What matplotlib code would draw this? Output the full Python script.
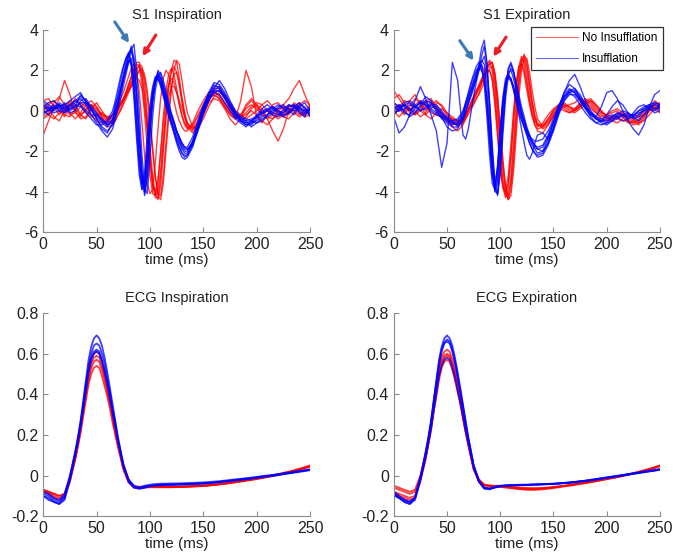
#Import Declarations
import matplotlib
matplotlib.use("Agg")
import matplotlib.pyplot as plt
import numpy as np

plt.rcParams['font.family'] = ['Liberation Sans', 'DejaVu Sans']
plt.rcParams['axes.unicode_minus'] = False

#Sample times (ms) for the S1 traces: coarse, fine around S1, coarse
t_s1 = np.concatenate([np.arange(0, 66, 5), np.arange(67.5, 133, 2.5), np.arange(135, 251, 5)])
#Sample times (ms) for the ECG traces
t_ecg = np.concatenate([np.arange(0, 31, 5), np.arange(32.5, 71, 2.5), np.arange(75, 251, 5)])

#S1 Inspiration - Insufflation (blue)
s1_insp_blue = [
    [0.1,0.2,0.0,0.3,0.1,0.2,0.4,0.6,0.3,0.0,-0.3,-0.6,-0.8,-0.4,
     0.0,0.5,1.0,1.6,2.2,2.8,3.1,2.2,0.5,-1.5,-3.3,-4.0,-2.8,-0.8,0.6,1.5,1.9,1.6,1.1,0.6,0.1,-0.3,-0.7,-1.1,-1.5,-1.8,-2.0,
     -2.0,-1.5,-0.8,0.0,0.6,1.0,1.0,0.6,0.2,-0.2,-0.4,-0.6,-0.6,-0.5,-0.3,-0.2,0.0,0.1,0.2,0.1,0.0,0.1,0.0,-0.1],
    [0.3,0.0,0.2,0.1,0.4,0.0,0.2,0.8,0.5,0.1,-0.4,-0.9,-1.1,-0.6,
     0.2,0.8,1.5,2.1,2.6,2.9,2.2,0.6,-1.4,-3.2,-3.9,-3.0,-1.2,0.3,1.2,1.7,1.6,1.2,0.7,0.2,-0.3,-0.7,-1.1,-1.5,-1.8,-2.1,-2.3,
     -2.2,-1.6,-0.7,0.2,0.8,1.3,1.1,0.7,0.2,-0.3,-0.5,-0.7,-0.7,-0.4,-0.2,0.0,0.2,0.0,-0.1,0.2,0.3,0.0,-0.2,0.1],
    [-0.2,0.1,0.3,0.0,-0.1,0.3,0.5,0.3,0.0,-0.2,-0.2,-0.4,-0.7,-0.6,
     -0.3,0.1,0.6,1.2,1.8,2.4,3.0,3.3,2.0,0.0,-2.2,-3.8,-4.1,-2.3,-0.3,1.0,1.7,1.9,1.5,1.0,0.4,-0.1,-0.5,-1.0,-1.4,-1.7,-1.9,
     -1.9,-1.7,-1.0,-0.2,0.5,1.1,1.5,1.1,0.5,0.0,-0.3,-0.5,-0.8,-0.6,-0.4,-0.3,-0.1,0.2,0.3,0.0,-0.2,0.2,0.4,0.0],
    [0.5,0.3,0.1,0.2,0.3,0.5,0.7,0.9,0.4,-0.2,-0.6,-1.0,-1.3,-0.9,
     -0.4,0.2,0.9,1.5,2.0,2.4,2.6,1.6,-0.2,-2.2,-3.6,-3.7,-2.2,-0.3,0.9,1.5,1.7,1.3,0.8,0.3,-0.2,-0.6,-1.1,-1.6,-2.0,-2.3,-2.4,
     -2.3,-1.8,-0.9,0.1,0.8,1.2,1.2,0.8,0.3,-0.1,-0.3,-0.4,-0.5,-0.6,-0.5,-0.2,0.1,0.3,0.1,-0.1,0.1,0.3,0.2,-0.3],
    [0.0,-0.2,0.1,0.4,0.2,-0.1,0.0,0.5,0.6,0.2,-0.1,-0.5,-0.6,-0.2,
     0.3,0.7,1.2,1.8,2.4,2.8,3.0,2.5,1.0,-1.0,-3.0,-4.2,-3.3,-1.2,0.4,1.4,2.0,1.8,1.3,0.8,0.3,-0.2,-0.6,-1.0,-1.3,-1.6,-1.8,
     -1.8,-1.3,-0.5,0.3,0.9,1.4,1.3,0.9,0.4,-0.1,-0.5,-0.7,-0.6,-0.3,0.0,0.1,-0.1,-0.2,0.0,0.3,0.2,-0.1,-0.3,0.2],
    [0.2,0.4,0.5,0.2,-0.1,0.1,0.3,0.2,-0.1,-0.4,-0.7,-0.7,-0.5,0.0,
     0.5,1.1,1.7,2.2,2.6,2.8,2.4,1.0,-1.0,-2.8,-3.9,-3.5,-1.8,-0.1,1.0,1.6,1.8,1.4,0.9,0.4,-0.1,-0.5,-0.9,-1.3,-1.6,-1.9,-2.1,
     -2.1,-1.5,-0.6,0.2,0.7,0.9,0.8,0.4,0.0,-0.4,-0.6,-0.8,-0.5,-0.2,0.1,0.3,0.1,-0.1,-0.3,-0.1,0.2,0.4,0.1,-0.2],
    [-0.1,0.0,0.2,0.3,0.0,0.1,0.2,0.4,0.4,0.1,-0.2,-0.5,-0.7,-0.5,
     -0.1,0.4,0.9,1.5,2.1,2.7,3.2,2.6,0.9,-1.2,-3.1,-4.1,-3.2,-1.0,0.5,1.4,1.8,1.6,1.2,0.7,0.2,-0.2,-0.6,-1.0,-1.3,-1.6,-1.8,
     -1.9,-1.6,-0.9,-0.1,0.5,0.9,1.0,0.7,0.3,-0.1,-0.4,-0.5,-0.4,-0.3,-0.1,0.1,0.2,0.0,-0.2,-0.1,0.1,0.2,0.0,0.1],
    [0.3,0.1,-0.1,0.0,0.2,0.3,0.5,0.7,0.5,0.1,-0.4,-0.8,-1.0,-0.7,
     -0.2,0.4,1.0,1.6,2.1,2.5,2.3,1.2,-0.5,-2.4,-3.6,-3.4,-2.0,-0.4,0.8,1.4,1.6,1.4,1.0,0.5,0.0,-0.5,-0.9,-1.4,-1.8,-2.1,-2.2,
     -2.2,-1.7,-0.8,0.0,0.7,1.1,1.1,0.7,0.2,-0.2,-0.5,-0.6,-0.5,-0.3,-0.1,0.0,-0.2,-0.3,-0.1,0.2,0.3,0.1,-0.1,0.0],
]

#S1 Inspiration - No Insufflation (red)
s1_insp_red = [
    [-1.2,-0.5,0.1,0.6,1.5,0.8,-0.1,-0.3,0.1,0.3,0.0,-0.3,-0.5,-0.6,
     -0.5,-0.2,0.1,0.4,0.8,1.2,1.6,2.0,2.3,2.2,1.3,-0.2,-1.8,-3.2,-4.1,-4.2,-3.5,-2.0,-0.3,1.0,1.8,2.1,1.8,1.1,0.3,-0.3,-0.7,
     -0.9,-0.8,-0.3,0.2,0.6,0.8,0.6,0.2,-0.2,-0.4,0.5,2.0,1.2,-0.3,-0.6,-0.2,0.3,0.4,0.1,-0.2,0.2,0.4,0.1,0.0],
    [0.4,0.2,-0.3,-0.5,0.0,0.5,0.3,-0.2,-0.4,0.1,0.4,0.0,-0.4,-0.5,
     -0.3,0.0,0.3,0.5,0.7,1.0,1.3,1.7,2.0,2.3,2.2,1.3,-0.2,-1.8,-3.2,-4.1,-4.4,-3.7,-2.1,-0.3,1.1,2.0,2.5,2.4,1.6,0.6,-0.2,
     -0.7,-1.0,-0.6,0.0,0.5,0.9,0.8,0.4,0.0,-0.3,-0.5,-0.3,0.1,0.3,0.1,-0.4,-1.0,-1.5,-0.9,0.0,0.4,0.2,-0.1,0.1],
    [0.0,0.3,0.5,0.2,-0.2,-0.3,0.1,0.4,0.2,-0.2,-0.5,-0.6,-0.4,-0.2,
     0.0,0.3,0.6,0.9,1.3,1.7,2.1,2.3,2.0,0.9,-0.6,-2.2,-3.6,-4.1,-3.9,-2.6,-0.9,0.6,1.6,2.0,1.8,1.2,0.5,-0.1,-0.5,-0.8,-1.0,
     -1.0,-0.6,0.0,0.5,0.9,1.0,0.7,0.3,-0.1,-0.3,-0.2,0.1,0.3,0.1,-0.2,-0.4,-0.2,0.1,0.3,0.6,1.1,1.5,0.8,0.2],
    [0.2,0.0,0.4,0.7,0.3,-0.1,-0.4,-0.1,0.3,0.5,0.2,-0.3,-0.8,-0.7,
     -0.5,-0.2,0.0,0.3,0.6,0.9,1.2,1.5,1.6,1.5,1.1,0.2,-1.0,-2.4,-3.6,-4.2,-4.0,-2.9,-1.3,0.2,1.3,1.9,2.2,1.9,1.2,0.4,-0.3,
     -0.8,-1.1,-0.8,-0.2,0.4,0.6,0.5,0.1,-0.4,-0.7,-0.4,0.2,0.5,0.2,-0.1,0.0,0.2,0.0,-0.3,-0.4,-0.1,0.3,0.5,0.3],
    [-0.3,-0.1,0.2,0.0,-0.3,0.2,0.6,0.3,-0.1,-0.3,-0.2,-0.1,-0.3,-0.4,
     -0.2,0.1,0.4,0.6,0.9,1.3,1.7,2.1,2.4,2.4,1.8,0.8,-0.6,-2.2,-3.6,-4.3,-4.3,-3.3,-1.7,-0.3,0.7,1.2,1.2,0.9,0.5,0.1,-0.3,
     -0.6,-0.9,-0.7,-0.1,0.5,1.0,1.2,0.7,0.1,-0.2,-0.3,-0.1,0.2,0.4,0.3,0.0,-0.2,-0.4,-0.2,0.1,0.0,-0.2,0.0,0.3],
    [0.5,0.6,0.2,-0.2,0.1,0.3,0.0,-0.4,-0.3,0.2,0.1,-0.2,-0.3,-0.2,
     0.0,0.2,0.4,0.6,0.8,1.0,1.2,1.4,1.7,2.0,2.1,1.8,1.0,-0.3,-1.8,-3.2,-4.2,-4.4,-3.6,-2.0,-0.4,1.0,2.0,2.5,2.3,1.5,0.6,
     -0.1,-0.8,-0.9,-0.4,0.2,0.7,0.9,0.8,0.4,0.0,-0.2,-0.4,-0.2,0.0,0.3,0.5,0.2,-0.2,-0.3,0.0,0.2,0.0,-0.2,-0.1],
    [-0.4,-0.2,0.1,0.3,0.1,-0.2,-0.1,0.2,0.4,0.2,-0.1,-0.4,-0.6,-0.5,
     -0.3,0.0,0.3,0.6,0.9,1.3,1.6,1.9,2.1,2.2,1.7,0.6,-0.9,-2.5,-3.7,-4.0,-3.4,-2.1,-0.6,0.6,1.3,1.6,1.4,0.9,0.3,-0.2,-0.6,
     -0.8,-0.7,-0.2,0.3,0.7,0.9,1.0,0.6,0.1,-0.2,-0.3,-0.2,0.0,-0.2,-0.5,-0.7,-0.4,0.0,0.2,0.1,-0.1,-0.3,-0.1,0.1],
    [0.1,-0.2,-0.4,-0.1,0.3,0.4,0.1,-0.2,0.0,0.3,0.2,-0.2,-0.4,-0.3,
     -0.1,0.1,0.3,0.5,0.8,1.1,1.4,1.6,1.8,2.0,2.0,1.6,0.7,-0.6,-2.0,-3.3,-4.1,-4.2,-3.2,-1.6,0.0,1.2,1.8,1.9,1.4,0.6,-0.1,
     -0.6,-0.9,-0.5,0.1,0.6,0.8,0.6,0.2,-0.2,-0.4,-0.2,0.3,0.6,0.3,-0.1,-0.3,-0.4,-0.2,0.1,0.3,0.2,-0.1,-0.3,-0.2],
]

#S1 Expiration - Insufflation (blue)
s1_exp_blue = [
    [0.2,0.0,0.1,0.3,0.2,0.4,0.3,0.1,-0.1,-0.3,-0.5,-0.7,-0.6,-0.2,
     0.3,0.7,1.1,1.5,1.9,2.2,2.5,2.3,1.2,-0.6,-2.6,-3.9,-3.6,-1.9,-0.1,1.2,1.9,2.0,1.6,1.0,0.4,-0.1,-0.5,-0.9,-1.2,-1.5,-1.7,
     -1.8,-1.7,-1.2,-0.5,0.2,0.8,1.1,0.9,0.5,0.1,-0.2,-0.4,-0.5,-0.5,-0.4,-0.3,-0.3,-0.2,-0.2,-0.1,0.0,0.2,0.3,0.2],
    [0.0,0.2,0.3,0.1,-0.1,0.2,0.5,0.4,0.0,-0.4,-0.6,-0.8,-0.8,-0.5,
     -0.1,0.3,0.7,1.1,1.6,2.3,3.1,3.5,2.4,0.2,-2.2,-4.0,-4.1,-2.6,-0.6,1.0,2.1,2.4,2.0,1.3,0.6,0.0,-0.5,-1.0,-1.4,-1.7,-1.9,
     -2.1,-2.0,-1.4,-0.6,0.2,0.9,1.3,1.1,0.6,0.2,-0.1,-0.3,-0.5,-0.6,-0.5,-0.4,-0.2,-0.1,-0.3,-0.5,-0.2,0.1,0.4,0.3],
    [-0.3,-1.1,-0.8,-0.2,0.5,1.2,0.6,-0.2,-1.0,-2.8,-1.6,2.4,1.5,-1.2,
     -1.4,-0.9,-0.1,0.7,1.4,2.0,2.3,1.9,0.6,-1.1,-2.9,-3.6,-2.8,-1.0,0.5,1.4,1.8,1.6,1.1,0.5,-0.2,-0.9,-1.6,-2.2,-2.4,-2.1,-1.6,
     -1.2,-1.1,-1.4,-0.9,0.1,0.9,1.5,1.8,1.2,0.5,0.0,-0.3,0.2,0.9,1.0,0.6,0.0,-0.5,-0.9,-1.2,-0.7,0.2,0.8,1.0],
    [0.4,0.2,-0.1,-0.2,0.1,0.5,0.4,0.2,0.1,-0.2,-0.4,-0.5,-0.4,0.0,
     0.4,0.9,1.4,1.8,2.2,2.4,2.2,1.3,-0.3,-2.2,-3.6,-3.9,-2.7,-0.8,0.7,1.6,1.8,1.5,1.0,0.4,-0.1,-0.5,-0.8,-1.1,-1.3,-1.4,-1.5,
     -1.5,-1.4,-1.0,-0.4,0.3,0.7,0.9,0.7,0.3,-0.1,-0.4,-0.6,-0.7,-0.6,-0.3,-0.1,-0.2,-0.4,-0.3,0.0,0.2,0.3,0.1,0.1],
    [-0.2,0.1,0.4,0.5,0.3,0.0,0.1,0.3,0.3,0.0,-0.3,-0.5,-0.7,-0.4,
     0.0,0.4,0.9,1.3,1.7,2.0,2.4,2.7,2.0,0.4,-1.7,-3.5,-4.2,-3.2,-1.2,0.6,1.7,2.1,1.9,1.4,0.8,0.2,-0.3,-0.8,-1.2,-1.5,-1.7,
     -1.9,-2.0,-1.6,-0.8,0.0,0.6,1.0,1.1,0.8,0.3,-0.1,-0.3,-0.4,-0.3,-0.2,-0.3,-0.5,-0.4,-0.1,0.2,0.3,0.1,0.0,0.2],
    [0.1,0.3,0.0,-0.3,-0.1,0.3,0.7,0.5,0.0,-0.3,-0.8,-1.0,-0.9,-0.3,
     0.2,0.6,1.0,1.4,1.8,2.1,2.0,1.6,0.5,-1.3,-3.1,-4.0,-3.3,-1.4,0.3,1.3,1.6,1.5,1.2,0.7,0.2,-0.3,-0.8,-1.2,-1.6,-1.9,-2.1,
     -2.2,-2.1,-1.6,-0.9,-0.1,0.5,0.8,0.8,0.5,0.1,-0.3,-0.6,-0.5,-0.2,0.2,0.5,0.3,-0.1,-0.4,-0.3,0.0,0.1,-0.1,0.0],
    [0.1,0.3,0.2,0.0,0.2,0.4,0.3,0.0,-0.2,-0.3,-0.4,-0.6,-0.7,-0.4,
     0.0,0.4,0.8,1.2,1.6,2.1,2.7,3.2,2.3,0.4,-2.0,-3.8,-4.1,-2.8,-0.7,1.0,2.0,2.3,1.9,1.2,0.5,-0.1,-0.6,-1.0,-1.3,-1.6,-1.8,
     -1.9,-1.8,-1.3,-0.6,0.1,0.7,1.0,0.9,0.6,0.2,-0.2,-0.4,-0.5,-0.4,-0.3,-0.2,-0.2,-0.3,-0.2,0.0,0.1,0.3,0.4,0.3],
    [-0.1,0.0,0.3,0.4,0.2,0.0,0.2,0.4,0.2,-0.1,-0.4,-0.6,-0.5,-0.1,
     0.4,0.8,1.3,1.7,2.0,2.2,2.1,1.5,0.2,-1.6,-3.2,-3.8,-3.0,-1.2,0.4,1.3,1.7,1.6,1.2,0.7,0.1,-0.4,-0.8,-1.2,-1.6,-1.9,-2.1,
     -2.3,-2.2,-1.7,-1.0,-0.2,0.5,0.9,1.0,0.7,0.3,-0.1,-0.4,-0.6,-0.7,-0.5,-0.2,0.0,-0.1,-0.3,-0.2,0.1,0.2,0.1,0.3],
]

#S1 Expiration - No Insufflation (red)
s1_exp_red = [
    [1.0,0.6,0.2,0.0,0.3,0.5,0.2,-0.1,-0.2,-0.3,-0.5,-0.6,-0.7,-0.5,
     -0.3,0.0,0.2,0.4,0.6,0.8,1.1,1.4,1.8,2.1,2.2,1.4,-0.1,-1.9,-3.4,-4.2,-4.3,-3.3,-1.5,0.4,1.8,2.5,2.5,1.9,1.0,0.2,-0.4,
     -0.7,-0.8,-0.5,-0.1,0.1,0.0,-0.1,0.1,0.4,0.6,0.4,0.1,-0.1,-0.2,-0.3,-0.4,-0.5,-0.5,-0.6,-0.4,-0.1,0.1,0.2,0.1],
    [0.3,0.1,-0.2,0.2,0.6,0.4,0.0,0.3,0.5,0.2,-0.2,-0.4,-0.5,-0.6,
     -0.4,-0.2,0.1,0.3,0.6,0.9,1.3,1.7,2.1,2.4,2.0,0.9,-0.8,-2.5,-3.8,-4.3,-3.8,-2.4,-0.6,1.1,2.2,2.7,2.3,1.5,0.6,-0.1,-0.5,
     -0.8,-0.6,-0.2,0.1,0.3,0.2,0.0,-0.1,0.1,0.3,0.5,0.3,0.0,-0.3,-0.4,-0.3,-0.2,-0.3,-0.5,-0.7,-0.4,0.0,0.3,0.4],
    [-0.2,0.2,0.5,0.4,0.0,-0.3,-0.1,0.3,0.2,-0.1,-0.4,-0.8,-1.0,-0.7,
     -0.4,0.0,0.4,0.7,1.0,1.2,1.5,1.9,2.3,2.5,2.3,1.6,0.3,-1.3,-2.9,-3.9,-4.4,-3.9,-2.5,-0.6,1.2,2.4,2.8,2.4,1.5,0.5,-0.2,
     -0.6,-0.9,-0.7,-0.3,0.0,0.2,0.3,0.4,0.6,0.4,0.1,-0.1,-0.3,-0.2,0.0,0.1,-0.1,-0.4,-0.6,-0.5,-0.2,0.2,0.5,0.3],
    [0.6,0.8,0.4,-0.1,-0.2,0.1,0.5,0.6,0.2,-0.2,-0.5,-0.7,-0.6,-0.3,
     -0.1,0.1,0.3,0.6,0.9,1.2,1.5,1.7,1.9,2.0,1.6,0.5,-1.0,-2.6,-3.7,-4.1,-3.6,-2.2,-0.4,1.2,2.1,2.4,2.0,1.3,0.5,-0.2,-0.7,
     -1.0,-1.1,-0.7,-0.2,0.2,0.4,0.2,0.0,0.2,0.5,0.6,0.3,0.0,-0.3,-0.5,-0.6,-0.4,-0.2,-0.2,-0.3,-0.2,0.0,0.1,-0.1],
    [0.0,-0.3,0.0,0.5,0.8,0.3,-0.2,-0.4,-0.1,0.1,-0.1,-0.3,-0.5,-0.4,
     -0.2,0.0,0.3,0.6,0.9,1.1,1.4,1.8,2.2,2.3,2.4,1.9,0.8,-0.8,-2.4,-3.7,-4.4,-4.2,-3.0,-1.2,0.7,2.0,2.6,2.6,1.9,1.0,0.2,
     -0.4,-0.8,-0.6,-0.2,0.1,0.3,0.2,0.1,0.3,0.4,0.2,-0.1,-0.4,-0.5,-0.3,-0.1,-0.2,-0.5,-0.7,-0.6,-0.3,0.0,0.2,0.0],
    [0.4,0.2,0.0,0.1,0.2,0.0,-0.2,0.1,0.4,0.3,-0.1,-0.5,-0.8,-0.6,
     -0.3,0.0,0.2,0.5,0.8,1.1,1.4,1.7,2.0,2.3,2.4,1.8,0.6,-1.0,-2.6,-3.8,-4.2,-3.6,-2.1,-0.2,1.5,2.5,2.7,2.2,1.3,0.4,-0.3,
     -0.7,-0.7,-0.4,0.0,0.2,0.1,-0.1,0.0,0.3,0.5,0.3,0.0,-0.2,-0.4,-0.5,-0.3,-0.1,-0.2,-0.4,-0.6,-0.5,-0.2,0.1,0.2],
    [-0.1,0.1,0.3,0.1,-0.2,0.0,0.4,0.5,0.1,-0.2,-0.3,-0.4,-0.6,-0.4,
     -0.2,0.1,0.4,0.7,1.0,1.3,1.6,1.8,2.0,2.0,1.5,0.3,-1.3,-2.9,-3.8,-4.0,-3.2,-1.7,0.0,1.4,2.2,2.3,1.8,1.0,0.3,-0.3,-0.7,
     -0.9,-0.8,-0.4,0.0,0.3,0.3,0.1,0.0,0.2,0.4,0.5,0.2,-0.1,-0.2,-0.1,0.0,-0.3,-0.6,-0.5,-0.2,0.0,0.1,0.3,0.2],
]

#ECG Inspiration - Insufflation (blue)
ecg_insp_blue = [
    [-0.10,-0.11,-0.13,-0.14,-0.11,-0.01,0.12,
     0.19,0.27,0.37,0.47,0.57,0.635,0.675,0.69,0.675,0.64,0.58,0.51,0.43,0.35,0.27,0.19,
     0.06,-0.02,-0.055,-0.065,-0.06,-0.052,-0.048,-0.046,-0.045,-0.045,-0.044,-0.043,-0.042,-0.041,-0.040,-0.039,-0.037,-0.035,
     -0.032,-0.029,-0.026,-0.023,-0.020,-0.017,-0.014,-0.010,-0.006,-0.003,0.000,0.004,0.008,0.012,0.016,0.020,0.024,0.028],
    [-0.09,-0.10,-0.12,-0.13,-0.10,-0.01,0.11,
     0.18,0.26,0.35,0.45,0.54,0.60,0.64,0.65,0.64,0.60,0.55,0.48,0.41,0.33,0.26,0.18,
     0.05,-0.02,-0.05,-0.06,-0.055,-0.05,-0.047,-0.045,-0.044,-0.044,-0.043,-0.042,-0.041,-0.040,-0.039,-0.038,-0.036,-0.034,
     -0.031,-0.028,-0.025,-0.022,-0.019,-0.016,-0.013,-0.009,-0.005,-0.002,0.001,0.005,0.009,0.013,0.017,0.021,0.025,0.030],
    [-0.08,-0.09,-0.11,-0.12,-0.09,0.00,0.11,
     0.17,0.25,0.34,0.43,0.52,0.58,0.61,0.62,0.61,0.57,0.52,0.46,0.39,0.32,0.25,0.17,
     0.05,-0.025,-0.055,-0.06,-0.05,-0.045,-0.042,-0.040,-0.040,-0.039,-0.039,-0.038,-0.037,-0.036,-0.035,-0.034,-0.032,-0.030,
     -0.028,-0.025,-0.022,-0.019,-0.016,-0.013,-0.010,-0.007,-0.003,0.000,0.003,0.007,0.010,0.014,0.018,0.022,0.026,0.030],
    [-0.10,-0.12,-0.13,-0.14,-0.12,-0.02,0.10,
     0.17,0.24,0.33,0.42,0.51,0.57,0.60,0.61,0.60,0.56,0.51,0.45,0.38,0.31,0.24,0.17,
     0.05,-0.03,-0.06,-0.065,-0.058,-0.052,-0.05,-0.048,-0.047,-0.046,-0.046,-0.045,-0.044,-0.043,-0.042,-0.040,-0.038,-0.036,
     -0.033,-0.030,-0.027,-0.024,-0.021,-0.018,-0.015,-0.012,-0.008,-0.005,-0.002,0.002,0.006,0.010,0.014,0.018,0.022,0.026],
]

#ECG Inspiration - No Insufflation (red)
ecg_insp_red = [
    [-0.07,-0.08,-0.09,-0.10,-0.09,-0.02,0.09,
     0.16,0.24,0.33,0.42,0.51,0.57,0.60,0.61,0.60,0.56,0.50,0.44,0.37,0.30,0.23,0.16,
     0.04,-0.03,-0.055,-0.06,-0.058,-0.056,-0.056,-0.057,-0.057,-0.057,-0.057,-0.056,-0.055,-0.054,-0.053,-0.052,
     -0.050,-0.047,-0.044,-0.041,-0.038,-0.034,-0.030,-0.026,-0.022,-0.018,-0.013,-0.008,-0.003,0.002,0.008,0.014,0.021,0.028,0.036,0.045],
    [-0.08,-0.08,-0.10,-0.11,-0.10,-0.03,0.08,
     0.15,0.22,0.31,0.39,0.47,0.53,0.56,0.57,0.56,0.52,0.47,0.41,0.35,0.28,0.21,0.15,
     0.04,-0.03,-0.055,-0.058,-0.056,-0.055,-0.055,-0.055,-0.056,-0.056,-0.056,-0.055,-0.054,-0.053,-0.052,-0.050,
     -0.048,-0.045,-0.042,-0.039,-0.035,-0.031,-0.027,-0.023,-0.019,-0.015,-0.010,-0.005,0.000,0.006,0.012,0.018,0.025,0.032,0.040,0.048],
    [-0.07,-0.08,-0.09,-0.10,-0.09,-0.02,0.08,
     0.14,0.21,0.29,0.37,0.45,0.50,0.53,0.54,0.53,0.49,0.44,0.39,0.33,0.26,0.20,0.14,
     0.03,-0.035,-0.06,-0.062,-0.06,-0.058,-0.058,-0.058,-0.058,-0.058,-0.057,-0.056,-0.055,-0.054,-0.052,-0.050,
     -0.048,-0.046,-0.043,-0.040,-0.036,-0.032,-0.028,-0.024,-0.020,-0.016,-0.011,-0.006,-0.001,0.004,0.010,0.016,0.022,0.029,0.036,0.043],
    [-0.08,-0.09,-0.11,-0.12,-0.11,-0.03,0.09,
     0.16,0.23,0.32,0.41,0.49,0.55,0.58,0.59,0.58,0.54,0.49,0.43,0.36,0.29,0.22,0.16,
     0.04,-0.03,-0.052,-0.055,-0.054,-0.053,-0.053,-0.054,-0.054,-0.055,-0.055,-0.054,-0.053,-0.052,-0.051,-0.050,
     -0.048,-0.046,-0.043,-0.040,-0.036,-0.032,-0.028,-0.024,-0.019,-0.014,-0.009,-0.004,0.001,0.007,0.013,0.019,0.026,0.033,0.041,0.050],
]

#ECG Expiration - Insufflation (blue)
ecg_exp_blue = [
    [-0.09,-0.11,-0.13,-0.14,-0.11,-0.01,0.12,
     0.19,0.27,0.37,0.47,0.57,0.635,0.675,0.69,0.675,0.64,0.58,0.51,0.43,0.35,0.27,0.19,
     0.05,-0.03,-0.062,-0.066,-0.058,-0.052,-0.050,-0.049,-0.048,-0.047,-0.046,-0.045,-0.044,-0.043,-0.042,-0.041,
     -0.039,-0.037,-0.035,-0.032,-0.029,-0.026,-0.023,-0.019,-0.015,-0.011,-0.007,-0.003,0.001,0.005,0.009,0.013,0.017,0.021,0.025,0.030],
    [-0.10,-0.11,-0.13,-0.14,-0.12,-0.02,0.11,
     0.18,0.26,0.36,0.46,0.55,0.62,0.655,0.67,0.66,0.62,0.56,0.49,0.42,0.34,0.26,0.18,
     0.05,-0.03,-0.065,-0.068,-0.060,-0.054,-0.051,-0.049,-0.048,-0.047,-0.047,-0.046,-0.045,-0.044,-0.043,-0.042,
     -0.040,-0.038,-0.036,-0.033,-0.030,-0.027,-0.024,-0.020,-0.016,-0.012,-0.008,-0.004,0.000,0.004,0.008,0.012,0.016,0.020,0.024,0.028],
    [-0.08,-0.10,-0.12,-0.13,-0.11,-0.01,0.11,
     0.18,0.26,0.36,0.45,0.54,0.61,0.65,0.66,0.65,0.61,0.55,0.48,0.41,0.33,0.25,0.18,
     0.05,-0.025,-0.06,-0.064,-0.056,-0.050,-0.048,-0.047,-0.046,-0.045,-0.045,-0.044,-0.043,-0.042,-0.041,-0.040,
     -0.038,-0.036,-0.034,-0.031,-0.028,-0.025,-0.021,-0.017,-0.013,-0.009,-0.005,-0.001,0.003,0.007,0.011,0.015,0.019,0.023,0.027,0.032],
    [-0.09,-0.11,-0.12,-0.13,-0.11,-0.02,0.09,
     0.16,0.23,0.32,0.40,0.49,0.54,0.57,0.58,0.57,0.53,0.48,0.42,0.36,0.29,0.22,0.16,
     0.04,-0.03,-0.06,-0.063,-0.057,-0.051,-0.049,-0.048,-0.047,-0.046,-0.046,-0.045,-0.044,-0.043,-0.042,-0.041,
     -0.039,-0.037,-0.035,-0.032,-0.029,-0.026,-0.022,-0.018,-0.014,-0.010,-0.006,-0.002,0.002,0.006,0.010,0.014,0.018,0.022,0.026,0.030],
]

#ECG Expiration - No Insufflation (red)
ecg_exp_red = [
    [-0.05,-0.06,-0.07,-0.08,-0.07,0.00,0.10,
     0.17,0.25,0.34,0.43,0.52,0.58,0.61,0.62,0.61,0.57,0.51,0.45,0.38,0.30,0.23,0.16,
     0.04,-0.02,-0.045,-0.050,-0.052,-0.054,-0.056,-0.058,-0.060,-0.062,-0.064,-0.065,-0.064,-0.062,-0.060,-0.057,
     -0.054,-0.051,-0.047,-0.043,-0.039,-0.035,-0.031,-0.027,-0.022,-0.017,-0.012,-0.007,-0.002,0.003,0.009,0.015,0.022,0.029,0.037,0.045],
    [-0.06,-0.07,-0.08,-0.09,-0.08,-0.01,0.09,
     0.16,0.24,0.33,0.42,0.50,0.56,0.59,0.60,0.59,0.55,0.50,0.44,0.37,0.29,0.22,0.16,
     0.04,-0.02,-0.045,-0.050,-0.053,-0.056,-0.059,-0.062,-0.065,-0.068,-0.070,-0.071,-0.070,-0.068,-0.065,-0.062,
     -0.058,-0.054,-0.050,-0.046,-0.042,-0.038,-0.033,-0.028,-0.023,-0.018,-0.013,-0.008,-0.002,0.004,0.010,0.017,0.024,0.031,0.039,0.048],
    [-0.08,-0.09,-0.10,-0.11,-0.10,-0.02,0.09,
     0.16,0.23,0.32,0.41,0.49,0.55,0.58,0.59,0.58,0.54,0.49,0.43,0.36,0.29,0.22,0.15,
     0.03,-0.03,-0.048,-0.050,-0.050,-0.051,-0.053,-0.055,-0.057,-0.059,-0.061,-0.062,-0.062,-0.061,-0.059,-0.057,
     -0.054,-0.051,-0.048,-0.044,-0.040,-0.036,-0.032,-0.027,-0.022,-0.017,-0.012,-0.007,-0.001,0.005,0.011,0.018,0.025,0.032,0.040,0.050],
    [-0.08,-0.10,-0.11,-0.12,-0.11,-0.03,0.08,
     0.15,0.22,0.31,0.39,0.47,0.53,0.56,0.57,0.56,0.52,0.47,0.41,0.35,0.28,0.21,0.15,
     0.03,-0.03,-0.05,-0.052,-0.053,-0.055,-0.058,-0.061,-0.064,-0.066,-0.068,-0.068,-0.067,-0.065,-0.062,-0.059,
     -0.055,-0.051,-0.047,-0.043,-0.039,-0.035,-0.030,-0.025,-0.020,-0.015,-0.010,-0.005,0.000,0.006,0.012,0.018,0.025,0.032,0.040,0.048],
]

#Arrow tail/tip positions (ms, value) on the S1 panels
arrows_insp = [((67, 4.4), (80.5, 3.35), '#3f7ab5'), ((105.5, 3.75), (93, 2.7), '#ee1c25')]
arrows_exp = [((62, 3.47), (75, 2.48), '#3f7ab5'), ((105.5, 3.65), (93.5, 2.68), '#ee1c25')]

#Figure and axes placement
fig = plt.figure(figsize=(6.86, 5.55), dpi=100)
ax_si = fig.add_axes([0.063, 0.582, 0.389, 0.364])
ax_se = fig.add_axes([0.574, 0.582, 0.388, 0.364])
ax_ei = fig.add_axes([0.063, 0.070, 0.389, 0.366])
ax_ee = fig.add_axes([0.574, 0.070, 0.388, 0.366])

panels = [
    (ax_si, t_s1, s1_insp_red, s1_insp_blue, 'S1 Inspiration', 1.0),
    (ax_se, t_s1, s1_exp_red, s1_exp_blue, 'S1 Expiration', 1.0),
    (ax_ei, t_ecg, ecg_insp_red, ecg_insp_blue, 'ECG Inspiration', 1.3),
    (ax_ee, t_ecg, ecg_exp_red, ecg_exp_blue, 'ECG Expiration', 1.3),
]

for ax, t, reds, blues, title, lw in panels:
    for tr in reds:
        assert len(tr) == len(t)
        ax.plot(t, tr, color='#ff0000', linewidth=lw, alpha=0.75)
    for tr in blues:
        assert len(tr) == len(t)
        ax.plot(t, tr, color='#0000ff', linewidth=lw, alpha=0.75)
    ax.set_title(title, fontsize=10.5, pad=8, color='#222222')
    ax.set_xlabel('time (ms)', fontsize=11, labelpad=1, color='#222222')
    ax.set_xlim(0, 250)
    ax.set_xticks([0, 50, 100, 150, 200, 250])
    for s in ['top', 'right']:
        ax.spines[s].set_visible(False)
    for s in ['left', 'bottom']:
        ax.spines[s].set_color('#8c8c8c')
    ax.tick_params(direction='in', length=3.5, colors='#8c8c8c', labelcolor='#222222', labelsize=11.5)

#S1 axes
for ax in [ax_si, ax_se]:
    ax.set_ylim(-6, 4)
    ax.set_yticks([-6, -4, -2, 0, 2, 4])

#ECG axes
for ax in [ax_ei, ax_ee]:
    ax.set_ylim(-0.2, 0.8)
    ax.set_yticks([-0.2, 0, 0.2, 0.4, 0.6, 0.8])
    ax.set_yticklabels(['-0.2', '0', '0.2', '0.4', '0.6', '0.8'])

#Arrows marking the S1 onsets
for ax, arrows in [(ax_si, arrows_insp), (ax_se, arrows_exp)]:
    for tail, tip, col in arrows:
        ax.annotate('', xy=tip, xytext=tail,
                    arrowprops=dict(arrowstyle='-|>', color=col, lw=2.2, mutation_scale=9,
                                    shrinkA=0, shrinkB=0))

#Legend
h_red, = ax_se.plot([], [], color='#ff0000', linewidth=0.8, alpha=0.6)
h_blue, = ax_se.plot([], [], color='#0000ff', linewidth=0.8, alpha=0.6)
leg = ax_se.legend([h_red, h_blue], ['No Insufflation', 'Insufflation'], loc='upper right',
                   bbox_to_anchor=(1.01, 1.015), borderaxespad=0, fontsize=8.5, fancybox=False,
                   framealpha=1, handlelength=3.6, borderpad=0.45, labelspacing=0.75, handletextpad=0.3)
leg.get_frame().set_edgecolor('#333333')
leg.get_frame().set_linewidth(0.9)

plt.savefig('out.png', dpi=100)
